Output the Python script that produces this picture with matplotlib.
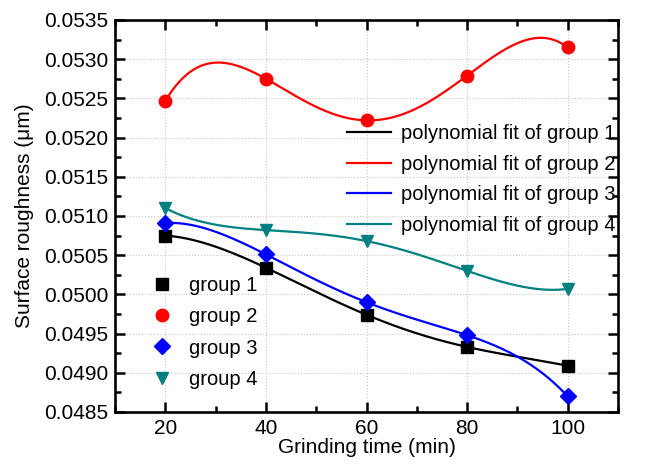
import numpy as np
import matplotlib
matplotlib.use('Agg')
import matplotlib.pyplot as plt
from matplotlib.ticker import FormatStrFormatter, MultipleLocator

plt.rcParams['font.family'] = ['Liberation Sans', 'DejaVu Sans']

# --- Data ---
time_min = [20, 40, 60, 80, 100]
group1 = [0.05075, 0.05034, 0.04974, 0.04933, 0.04909]
group2 = [0.05247, 0.05275, 0.05222, 0.05279, 0.05315]
group3 = [0.05091, 0.05051, 0.04990, 0.04948, 0.04870]
group4 = [0.05110, 0.05082, 0.05068, 0.05030, 0.05007]

groups = [group1, group2, group3, group4]
colors = ['black', '#ff0000', '#0000ff', '#008080']
markers = ['s', 'o', 'D', 'v']
msizes = [8, 9, 8, 9]

fig = plt.figure(figsize=(6.47, 4.65), dpi=100)
ax = fig.add_axes([0.178, 0.114, 0.777, 0.843])

x_fit = np.linspace(min(time_min), max(time_min), 300)
line_handles = []
pt_handles = []
for i, (g, c, m, ms) in enumerate(zip(groups, colors, markers, msizes)):
    # 4th order polynomial fit through the five points
    coef = np.polyfit(time_min, g, 4)
    ln, = ax.plot(x_fit, np.polyval(coef, x_fit), color=c, lw=1.6, zorder=2,
                  label=f'polynomial fit of group {i + 1}')
    line_handles.append(ln)
    pt, = ax.plot(time_min, g, linestyle='none', marker=m, ms=ms, color=c,
                  zorder=3, label=f'group {i + 1}')
    pt_handles.append(pt)

ax.set_xlim(10, 110)
ax.set_ylim(0.0485, 0.0535)
ax.xaxis.set_major_locator(MultipleLocator(20))
ax.xaxis.set_minor_locator(MultipleLocator(10))
ax.yaxis.set_major_locator(MultipleLocator(0.0005))
ax.yaxis.set_minor_locator(MultipleLocator(0.00025))
ax.yaxis.set_major_formatter(FormatStrFormatter('%.4f'))

ax.tick_params(which='both', direction='in', top=True, right=True, labelsize=15, width=1.8)
ax.tick_params(which='major', length=7, pad=5)
ax.tick_params(which='minor', length=4)
for sp in ax.spines.values():
    sp.set_linewidth(1.9)

ax.grid(True, which='major', linestyle=':', color='#c8c8c8', lw=0.8, zorder=0)
ax.set_axisbelow(True)

ax.set_xlabel('Grinding time (min)', fontsize=15, labelpad=0)
ax.set_ylabel('Surface roughness (\u03bcm)', fontsize=15, labelpad=7)

leg1 = ax.legend(handles=line_handles, loc='upper left', bbox_to_anchor=(0.461, 0.735),
                 frameon=False, fontsize=14.5, borderpad=0, borderaxespad=0,
                 handlelength=2.2, handletextpad=0.5, labelspacing=0.58)
ax.add_artist(leg1)
ax.legend(handles=pt_handles, loc='upper left', bbox_to_anchor=(0.075, 0.346),
          frameon=False, fontsize=14.5, borderpad=0, borderaxespad=0,
          handlelength=0.9, handletextpad=0.9, labelspacing=0.6)

fig.savefig('out.png', dpi=100)
